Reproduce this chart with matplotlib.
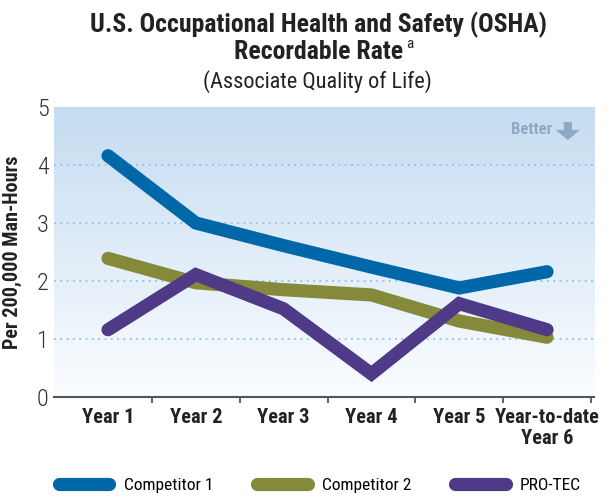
import matplotlib
matplotlib.use('Agg')
import matplotlib.pyplot as plt
import numpy as np
from matplotlib.colors import LinearSegmentedColormap
from matplotlib.patches import Polygon

plt.rcParams['font.family'] = ['Roboto Condensed', 'DejaVu Sans']

years = ['Year 1', 'Year 2', 'Year 3', 'Year 4', 'Year 5', 'Year-to-date\nYear 6']
competitor1 = [4.16, 3.00, 2.61, 2.24, 1.88, 2.16]
competitor2 = [2.39, 1.97, 1.85, 1.76, 1.31, 1.03]
protec = [1.16, 2.11, 1.52, 0.40, 1.61, 1.16]
series = [('Competitor 1', competitor1, '#0068a9'),
          ('Competitor 2', competitor2, '#85893a'),
          ('PRO-TEC', protec, '#4e3a86')]

fig = plt.figure(figsize=(6.11, 4.97), dpi=100)
ax = fig.add_axes([0.0884, 0.2012, 0.8838, 0.5835])

# background gradient, light blue at top fading to white
cmap = LinearSegmentedColormap.from_list('bg', ['#fbfdff', '#c5dcf1'])
grad = np.linspace(0, 1, 256).reshape(-1, 1)
ax.imshow(grad, aspect='auto', cmap=cmap, origin='lower',
          extent=(0, 1, 0, 1), transform=ax.transAxes, zorder=0)

x = np.arange(len(years))
for label, vals, col in series:
    ax.plot(x, vals, color=col, lw=9.5, solid_capstyle='round',
            solid_joinstyle='miter', label=label, zorder=3)

ax.set_xlim(-0.615, 5.535)
ax.set_ylim(0, 5)
for v in [1, 2, 3, 4]:
    ax.axhline(v, color='#8cc3ea', lw=1.3, ls=(0, (1, 2.5)), zorder=1)

for s in ['left', 'right', 'top']:
    ax.spines[s].set_visible(False)
ax.spines['bottom'].set_color('#555555')
ax.spines['bottom'].set_linewidth(1.5)

ax.set_yticks([0, 1, 2, 3, 4, 5])
ax.tick_params(axis='y', length=0, labelsize=17.5, pad=4, labelcolor='#333333')
for t in ax.get_yticklabels():
    t.set_fontweight('light')
ax.set_xticks(x + 0.5, minor=False)
ax.set_xticklabels([])
ax.tick_params(axis='x', length=4, width=1.3, color='#555555', direction='out')
ax.set_xticks(x, minor=True)
ax.set_xticklabels(years, minor=True, fontweight='bold', fontsize=14.8,
                   color='#222222', linespacing=1.1)
ax.tick_params(axis='x', which='minor', length=0, pad=8)

ax.set_ylabel('Per 200,000 Man-Hours', fontweight='bold', fontsize=14.5,
              color='#222222')
ax.yaxis.set_label_coords(-0.06, 0.5)

# "Better" hint with arrow
ax.text(0.922, 0.922, 'Better', transform=ax.transAxes, fontsize=12,
        fontweight='bold', color='#8fa9c4', ha='right', va='center')
arrow = Polygon([[0.944, 0.948], [0.959, 0.948], [0.959, 0.921], [0.974, 0.921],
                 [0.9515, 0.886], [0.929, 0.921], [0.944, 0.921]],
                closed=True, transform=ax.transAxes, color='#8fa9c4', lw=0, zorder=4)
ax.add_patch(arrow)

fig.text(0.521, 0.9356, 'U.S. Occupational Health and Safety (OSHA)', ha='center',
         va='baseline', fontsize=18.5, fontweight='bold', color='#222222')
fig.text(0.521, 0.881, 'Recordable Rate', ha='center', va='baseline',
         fontsize=18.5, fontweight='bold', color='#222222')
fig.text(0.664, 0.903, 'a', ha='left', va='baseline', fontsize=11, color='#222222')
fig.text(0.519, 0.823, '(Associate Quality of Life)', ha='center', va='baseline',
         fontsize=16, color='#222222')

fig.legend(loc='center left', bbox_to_anchor=(58.5 / 611, 11.5 / 497), ncol=3,
           frameon=False, fontsize=12.5, handlelength=2.93, columnspacing=2.5,
           handletextpad=0.83, borderpad=0, borderaxespad=0)

fig.savefig('out.png', dpi=100)
